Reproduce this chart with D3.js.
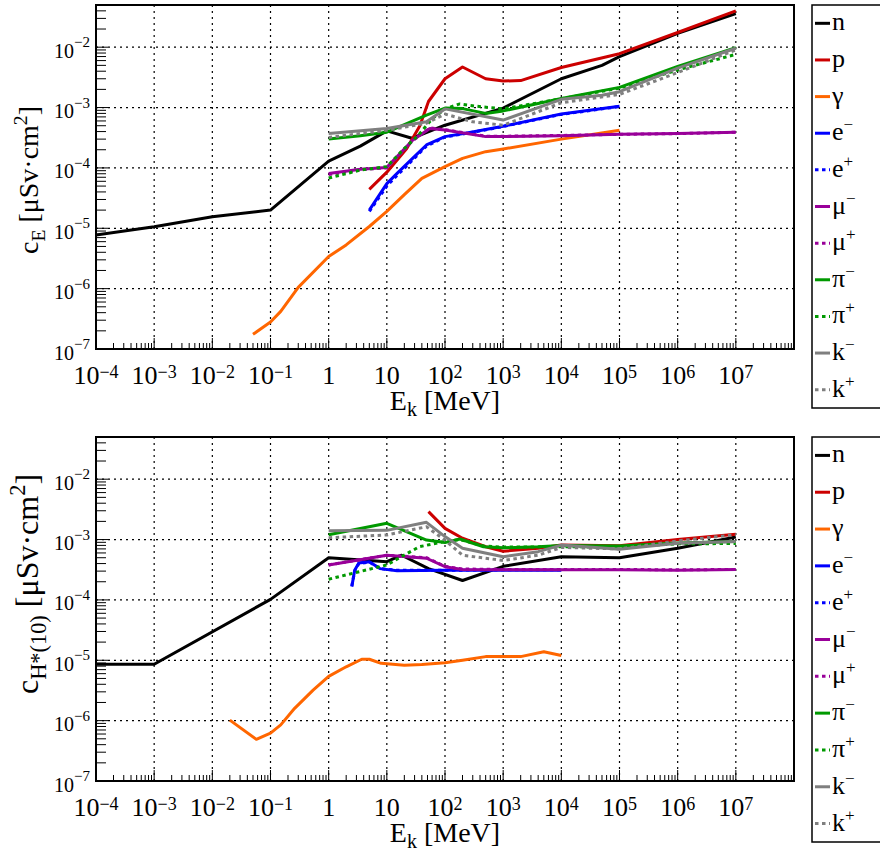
<!DOCTYPE html>
<html>
<head>
<meta charset="utf-8">
<script src="https://cdn.jsdelivr.net/npm/d3@7"></script>
<style>
  body { margin: 0; background: #fff; }
</style>
</head>
<body>
<div id="chart"></div>
<script>
// legend labels: [base, superscript]
const particles = [["n", ""], ["p", ""], ["γ", ""], ["e", "−"], ["e", "+"], ["μ", "−"], ["μ", "+"],
                   ["π", "−"], ["π", "+"], ["k", "−"], ["k", "+"]];
const colors = ["#000000", "#cc0000", "#ff6600", "#0000ff", "#0000ff", "#990099", "#990099",
                "#009900", "#009900", "#7f7f7f", "#7f7f7f"];
const dotted = [false, false, false, false, true, false, true, false, true, false, true];

// tick label exponents
const xExps = [-4, -3, -2, -1, 0, 1, 2, 3, 4, 5, 6, 7];
const yExps = [-7, -6, -5, -4, -3, -2];

// top panel: c_E [uSv cm2] vs E_k [MeV]
const topN  = [[1e-4,7.7e-6],[1e-3,1.06e-5],[1e-2,1.55e-5],[1e-1,2.0e-5],[1,1.3e-4],[3.5,2.3e-4],[10,4.1e-4],[27,3.1e-4],[100,5.1e-4],[1e3,9.8e-4],[1e4,3.0e-3],[5e4,5.0e-3],[1e5,7.0e-3],[1e6,1.7e-2],[1e7,3.6e-2]];
const topP  = [[5,4.4e-5],[10,8.5e-5],[22,2.1e-4],[37,5.0e-4],[52,1.26e-3],[100,3.0e-3],[200,4.7e-3],[500,3.0e-3],[1e3,2.75e-3],[2e3,2.8e-3],[1e4,4.6e-3],[1e5,7.8e-3],[1e6,1.75e-2],[1e7,4.0e-2]];
const topG  = [[0.05,1.75e-7],[0.1,2.8e-7],[0.15,4.2e-7],[0.3,1.05e-6],[1,3.4e-6],[2,5.3e-6],[5,1.07e-5],[10,1.9e-5],[20,3.6e-5],[40,6.7e-5],[100,1.05e-4],[200,1.44e-4],[500,1.86e-4],[1e3,2.06e-4],[1e4,3.0e-4],[1e5,4.2e-4]];
const topEm = [[5,2.0e-5],[10,5.5e-5],[15,8.1e-5],[32,1.64e-4],[48,2.4e-4],[100,3.3e-4],[280,3.9e-4],[1e3,4.9e-4],[1e4,7.8e-4],[1e5,1.05e-3]];
const topEp = [[5,1.9e-5],[10,5.0e-5],[15,7.5e-5],[32,1.55e-4],[48,2.3e-4],[100,3.25e-4],[280,3.85e-4],[1e3,4.85e-4],[1e4,7.7e-4],[1e5,1.04e-3]];
const topMm = [[1,8.1e-5],[3.5,9.5e-5],[10,1.02e-4],[28,2.9e-4],[55,4.5e-4],[100,4.25e-4],[500,3.3e-4],[1e3,3.3e-4],[1e4,3.4e-4],[1e5,3.6e-4],[1e6,3.7e-4],[1e7,3.9e-4]];
const topMp = [[1,7.8e-5],[3.5,9.3e-5],[10,1.0e-4],[28,2.85e-4],[55,4.6e-4],[100,4.3e-4],[500,3.35e-4],[1e3,3.35e-4],[1e4,3.45e-4],[1e5,3.6e-4],[1e6,3.7e-4],[1e7,3.9e-4]];
const topPm = [[1,3.0e-4],[3.5,3.4e-4],[10,3.9e-4],[48,7.5e-4],[100,9.8e-4],[200,9.6e-4],[500,8.0e-4],[1e3,8.8e-4],[4e3,1.17e-3],[1e4,1.42e-3],[1e5,2.16e-3],[1e6,4.8e-3],[1e7,9.8e-3]];
const topPp = [[1,6.8e-5],[3.5,9.2e-5],[10,1.05e-4],[19,2.0e-4],[35,3.5e-4],[60,6.5e-4],[100,9.5e-4],[180,1.15e-3],[350,1.05e-3],[1e3,9.5e-4],[1e4,1.4e-3],[1e5,2.1e-3],[1e6,4.2e-3],[1e7,7.6e-3]];
const topKm = [[1,3.7e-4],[10,4.5e-4],[48,5.8e-4],[100,9.5e-4],[1e3,6.2e-4],[1e4,1.37e-3],[5e4,1.6e-3],[1e5,1.83e-3],[1e6,4.5e-3],[1e7,9.6e-3]];
const topKp = [[1,3.2e-4],[10,4.2e-4],[48,5.5e-4],[100,7.8e-4],[300,5.8e-4],[1e3,5.1e-4],[1e4,1.2e-3],[1e5,1.65e-3],[1e6,3.8e-3],[1e7,9.0e-3]];

// bottom panel: c_H*(10) [uSv cm2] vs E_k [MeV]
const botN  = [[1e-4,8.6e-6],[1e-3,8.6e-6],[1e-1,1.02e-4],[1,5.0e-4],[10,4.3e-4],[18,5.5e-4],[52,3.3e-4],[200,2.1e-4],[1e3,3.6e-4],[1e4,5.2e-4],[1e5,5.0e-4],[1e6,7.2e-4],[1e7,1.1e-3]];
const botP  = [[52,2.9e-3],[100,1.53e-3],[200,1.05e-3],[500,7.6e-4],[1e3,6.4e-4],[4e3,7.2e-4],[1e4,8.1e-4],[1e5,7.9e-4],[1e6,1.0e-3],[1e7,1.22e-3]];
const botG  = [[0.02,1.02e-6],[0.057,4.9e-7],[0.1,6.2e-7],[0.15,8.5e-7],[0.26,1.6e-6],[0.54,3.2e-6],[1,5.4e-6],[2,7.8e-6],[3.7,1.04e-5],[5,1.04e-5],[8,8.9e-6],[20,8.3e-6],[40,8.5e-6],[100,9.1e-6],[200,1.0e-5],[500,1.15e-5],[2e3,1.15e-5],[5e3,1.38e-5],[1e4,1.2e-5]];
const botEm = [[2.5,1.66e-4],[2.8,3.1e-4],[3.3,4.1e-4],[5,4.3e-4],[7.6,3.3e-4],[15,3.05e-4],[100,3.1e-4],[1e3,3.1e-4],[1e4,3.1e-4]];
const botEp = [[2.5,1.7e-4],[2.8,3.0e-4],[3.3,4.0e-4],[5,4.25e-4],[7.6,3.3e-4],[15,3.1e-4],[100,3.1e-4],[1e3,3.15e-4],[1e4,3.15e-4]];
const botMm = [[1,3.8e-4],[10,5.5e-4],[48,4.9e-4],[100,3.55e-4],[200,3.2e-4],[1e3,3.15e-4],[1e4,3.15e-4],[1e5,3.15e-4],[1e6,3.1e-4],[1e7,3.2e-4]];
const botMp = [[1,3.8e-4],[10,5.5e-4],[48,5.0e-4],[100,3.6e-4],[200,3.25e-4],[1e3,3.2e-4],[1e4,3.2e-4],[1e5,3.2e-4],[1e6,3.15e-4],[1e7,3.2e-4]];
const botPm = [[1,1.2e-3],[10,1.86e-3],[48,9.8e-4],[100,8.9e-4],[180,1.02e-3],[460,7.6e-4],[1e3,7.3e-4],[4e3,7.6e-4],[1e4,8.0e-4],[1e5,7.8e-4],[1e6,8.8e-4],[1e7,9.3e-4]];
const botPp = [[1,2.2e-4],[10,3.8e-4],[36,7.6e-4],[100,9.3e-4],[180,1.0e-3],[460,7.8e-4],[1e3,7.5e-4],[1e4,7.6e-4],[1e5,7.5e-4],[1e6,8.5e-4],[1e7,8.6e-4]];
const botKm = [[1,1.4e-3],[10,1.42e-3],[48,1.93e-3],[100,1.12e-3],[200,7.2e-4],[1e3,5.2e-4],[4e3,6.3e-4],[1e4,8.1e-4],[1e5,6.9e-4],[1e6,8.7e-4],[1e7,9.3e-4]];
const botKp = [[1,1.07e-3],[10,1.19e-3],[48,1.63e-3],[100,9.8e-4],[200,5.5e-4],[1e3,4.5e-4],[4e3,5.5e-4],[1e4,7.4e-4],[1e5,7.0e-4],[1e6,9.5e-4],[1e7,1.2e-3]];

const topSeries = [topN, topP, topG, topEm, topEp, topMm, topMp, topPm, topPp, topKm, topKp];
const botSeries = [botN, botP, botG, botEm, botEp, botMm, botMp, botPm, botPp, botKm, botKp];

const serif = "'Liberation Serif', 'DejaVu Serif', 'Times New Roman', Times, serif";

const svg = d3.select("#chart").append("svg")
    .attr("width", 880)
    .attr("height", 852)
    .attr("font-family", serif);

const left = 96, right = 794;

function minorTicks(lo, hi) {
    const out = [];
    for (let e = Math.floor(Math.log10(lo)); e <= Math.ceil(Math.log10(hi)); e++) {
        for (let k = 2; k < 10; k++) {
            const v = k * Math.pow(10, e);
            if (v > lo && v < hi) out.push(v);
        }
    }
    return out;
}

// "10" with a superscript exponent, ROOT style
function powLabel(sel, e, supSize, raise) {
    if (e === 0) { sel.text("1"); return; }
    if (e === 1) { sel.text("10"); return; }
    sel.append("tspan").text("10");
    sel.append("tspan").attr("dy", -raise).attr("font-size", supSize)
        .text((e < 0 ? "−" : "") + Math.abs(e));
}

function drawPanel(cfg, series, id) {
    const top = cfg.top, bottom = cfg.bottom;
    const x = d3.scaleLog().domain([1e-4, 1e8]).range([left, right]);
    const y = d3.scaleLog().domain([1e-7, 5e-2]).range([bottom, top]);
    const g = svg.append("g");

    // Grid
    g.append("g").selectAll("line")
        .data(xExps.slice(1).map(e => Math.pow(10, e)))
        .enter().append("line")
        .attr("x1", d => x(d)).attr("x2", d => x(d))
        .attr("y1", top).attr("y2", bottom)
        .attr("stroke", "#000").attr("stroke-width", 1.2).attr("stroke-dasharray", "2,4");
    g.append("g").selectAll("line")
        .data(yExps.slice(1).map(e => Math.pow(10, e)))
        .enter().append("line")
        .attr("x1", left).attr("x2", right)
        .attr("y1", d => y(d)).attr("y2", d => y(d))
        .attr("stroke", "#000").attr("stroke-width", 1.2).attr("stroke-dasharray", "2,4");

    // ticks (inside the frame)
    const xMinor = minorTicks(1e-4, 1e8), yMinor = minorTicks(1e-7, 5e-2);
    const xMajor = d3.range(-4, 9).map(e => Math.pow(10, e));
    const yMajor = d3.range(-7, -1).map(e => Math.pow(10, e));
    g.append("g").selectAll("line").data(xMinor).enter().append("line")
        .attr("x1", d => x(d)).attr("x2", d => x(d)).attr("y1", bottom).attr("y2", bottom - 6)
        .attr("stroke", "#000").attr("stroke-width", 1);
    g.append("g").selectAll("line").data(xMajor).enter().append("line")
        .attr("x1", d => x(d)).attr("x2", d => x(d)).attr("y1", bottom).attr("y2", bottom - 11)
        .attr("stroke", "#000").attr("stroke-width", 1);
    g.append("g").selectAll("line").data(yMinor).enter().append("line")
        .attr("x1", left).attr("x2", left + 10).attr("y1", d => y(d)).attr("y2", d => y(d))
        .attr("stroke", "#000").attr("stroke-width", 1);
    g.append("g").selectAll("line").data(yMajor).enter().append("line")
        .attr("x1", left).attr("x2", left + 12).attr("y1", d => y(d)).attr("y2", d => y(d))
        .attr("stroke", "#000").attr("stroke-width", 1);

    // data lines
    g.append("clipPath").attr("id", id)
        .append("rect").attr("x", left).attr("y", top)
        .attr("width", right - left).attr("height", bottom - top);
    const line = d3.line().x(d => x(d[0])).y(d => y(d[1]));
    g.append("g").attr("clip-path", `url(#${id})`)
        .selectAll("path").data(series).enter().append("path")
        .attr("d", line)
        .attr("fill", "none")
        .attr("stroke", (d, i) => colors[i])
        .attr("stroke-width", 3)
        .attr("stroke-linejoin", "round")
        .attr("stroke-dasharray", (d, i) => dotted[i] ? "3.5,3.5" : null);

    // frame
    g.append("rect").attr("x", left).attr("y", top)
        .attr("width", right - left).attr("height", bottom - top)
        .attr("fill", "none").attr("stroke", "#000").attr("stroke-width", 2);

    // tick labels
    xExps.forEach(e => {
        const t = g.append("text").attr("x", x(Math.pow(10, e))).attr("y", cfg.tickY)
            .attr("text-anchor", "middle").attr("font-size", 26);
        powLabel(t, e, 18, 6.5);
    });
    yExps.forEach(e => {
        const t = g.append("text").attr("x", 90).attr("y", y(Math.pow(10, e)) + 10.5)
            .attr("text-anchor", "end").attr("font-size", 20);
        powLabel(t, e, 15, 10.5);
    });

    // axis titles
    const xt = g.append("text").attr("x", (left + right) / 2).attr("y", cfg.xTitleY)
        .attr("text-anchor", "middle").attr("font-size", 28);
    xt.append("tspan").text("E");
    xt.append("tspan").attr("dy", 6).attr("font-size", 20).text("k");
    xt.append("tspan").attr("dy", -6).text(" [MeV]");

    const fs = cfg.yTitleSize;
    const yt = g.append("text")
        .attr("transform", `translate(${cfg.yTitleX},${cfg.yTitleY}) rotate(-90)`)
        .attr("text-anchor", "middle").attr("font-size", fs);
    yt.append("tspan").text("c");
    yt.append("tspan").attr("dy", fs * 0.25).attr("font-size", fs * 0.7).text(cfg.sub);
    yt.append("tspan").attr("dy", -fs * 0.25).text(" [μSv·cm");
    yt.append("tspan").attr("dy", -fs * 0.4).attr("font-size", fs * 0.7).text("2");
    yt.append("tspan").attr("dy", fs * 0.4).text("]");

    // legend
    const lg = g.append("g");
    lg.append("rect").attr("x", 812).attr("y", cfg.legTop)
        .attr("width", 100).attr("height", cfg.legBottom - cfg.legTop)
        .attr("fill", "#fff").attr("stroke", "#000").attr("stroke-width", 1.5);
    const step = (cfg.legBottom - cfg.legTop) / particles.length;
    particles.forEach((p, i) => {
        const cy = cfg.legTop + step * (i + 0.5);
        lg.append("line").attr("x1", 815).attr("x2", 830).attr("y1", cy).attr("y2", cy)
            .attr("stroke", colors[i]).attr("stroke-width", 3)
            .attr("stroke-dasharray", dotted[i] ? "3.5,3.5" : null);
        const t = lg.append("text").attr("x", 832).attr("y", cy + 7).attr("font-size", 26);
        t.append("tspan").text(p[0]);
        if (p[1]) t.append("tspan").attr("dy", -10).attr("font-size", 17).text(p[1]);
    });
}

drawPanel({top: 5, bottom: 349, tickY: 384, xTitleY: 410,
           yTitleX: 38, yTitleY: 180, yTitleSize: 28, sub: "E",
           legTop: 5, legBottom: 408}, topSeries, "clipTop");
drawPanel({top: 437, bottom: 781, tickY: 816, xTitleY: 842,
           yTitleX: 38, yTitleY: 584, yTitleSize: 32, sub: "H*(10)",
           legTop: 437, legBottom: 842}, botSeries, "clipBot");
</script>
</body>
</html>
